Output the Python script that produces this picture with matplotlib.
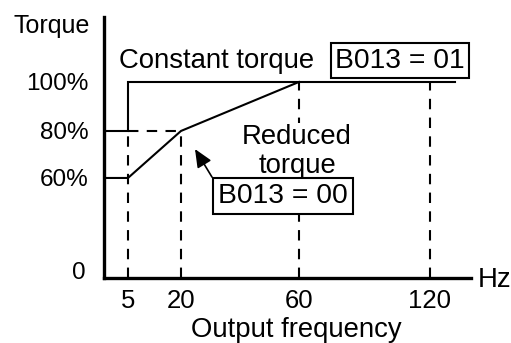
import matplotlib.pyplot as plt
import matplotlib.transforms as mtransforms
import numpy as np

plt.rcParams['font.family'] = ['Liberation Sans', 'DejaVu Sans']

# chart values
freq_ticks = [5, 20, 60, 120]
freq_labels = ['5', '20', '60', '120']
torque_ticks = [0, 60, 80, 100]
torque_labels = ['0', '60%', '80%', '100%']

const_f = [0, 5, 5, 131.5]
const_t = [80, 80, 100, 100]
reduced_f = [0, 5, 20, 60]
reduced_t = [60, 60, 80, 100]

guide_f = [5, 20, 60, 120]          # dashed verticals
guide_top = [80, 80, 100, 100]

# non-linear (schematic) axis scales, piecewise
xa_f = [0, 5, 20, 60, 120, 160]
xa_p = [0, 24, 77, 195, 326, 326 + 40 * 131 / 60]
ya_t = [0, 60, 80, 100, 140]
ya_p = [0, 99.5, 146.5, 195.5, 293.5]

fx = lambda v: np.interp(v, xa_f, xa_p)
fx_inv = lambda v: np.interp(v, xa_p, xa_f)
fy = lambda v: np.interp(v, ya_t, ya_p)
fy_inv = lambda v: np.interp(v, ya_p, ya_t)

W, H = 511, 343
fig = plt.figure(figsize=(W / 100, H / 100), dpi=100)
ax = fig.add_axes([104 / W, (H - 277.5) / H, 367 / W, 260.5 / H])
ax.set_xscale('function', functions=(fx, fx_inv))
ax.set_yscale('function', functions=(fy, fy_inv))
ax.set_xlim(0, 138.8)
ax.set_ylim(0, 126.5)

for s in ['top', 'right']:
    ax.spines[s].set_visible(False)
for s in ['left', 'bottom']:
    ax.spines[s].set_linewidth(2.4)
    ax.spines[s].set_capstyle('projecting')

ax.set_xticks(freq_ticks, freq_labels)
ax.set_yticks(torque_ticks, torque_labels)
ax.minorticks_off()
ax.tick_params(axis='x', length=0, pad=8, labelsize=18.5)
ax.tick_params(axis='y', length=0, pad=11, labelsize=17.5)

# nudge the "0" label up a bit like in the original
lab0 = ax.yaxis.get_major_ticks()[0].label1
lab0.set_transform(lab0.get_transform() + mtransforms.ScaledTranslation(-3 / 100, 7 / 100, fig.dpi_scale_trans))

dash = (0, (5, 4))
for f, t in zip(guide_f, guide_top):
    ax.plot([f, f], [0, t], color='k', lw=1.5, linestyle=dash, zorder=2)
ax.plot([5, 20], [80, 80], color='k', lw=1.5, linestyle=dash, zorder=2)

ax.plot(const_f, const_t, color='k', lw=1.5, solid_joinstyle='miter', zorder=3)
ax.plot(reduced_f, reduced_t, color='k', lw=1.5, solid_joinstyle='miter', zorder=3)

fs = 19.8
tr = ax.transAxes
ax.text(-0.038, 0.9386, 'Torque', transform=tr, ha='right', va='baseline', fontsize=18)
ax.text(1.019, -0.036, 'Hz', transform=tr, ha='left', va='baseline', fontsize=fs)
ax.text(0.5245, -0.228, 'Output frequency', transform=tr, ha='center', va='baseline', fontsize=fs)
ax.text(0.041, 0.804, 'Constant torque', transform=tr, ha='left', va='baseline', fontsize=fs)
ax.text(0.8065, 0.805, 'B013 = 01', transform=tr, ha='center', va='baseline', fontsize=20.3,
        bbox=dict(boxstyle='square,pad=0.16', fc='white', ec='k', lw=1.5))
ax.text(0.526, 0.401, 'Reduced\ntorque', transform=tr, ha='center', va='baseline', fontsize=fs,
        linespacing=1.15, zorder=4,
        bbox=dict(boxstyle='square,pad=0.05', fc='white', ec='none'))
ax.text(0.487, 0.286, 'B013 = 00', transform=tr, ha='center', va='baseline', fontsize=20.3, zorder=4,
        bbox=dict(boxstyle='square,pad=0.18', fc='white', ec='k', lw=1.5))

ax.annotate('', xy=(24.75, 72.3), xytext=(30.5, 60.4),
            arrowprops=dict(arrowstyle='-|>,head_length=0.5,head_width=0.22', color='k', lw=1.2,
                            mutation_scale=22, shrinkA=0, shrinkB=0))

fig.savefig('out.png', dpi=100)
